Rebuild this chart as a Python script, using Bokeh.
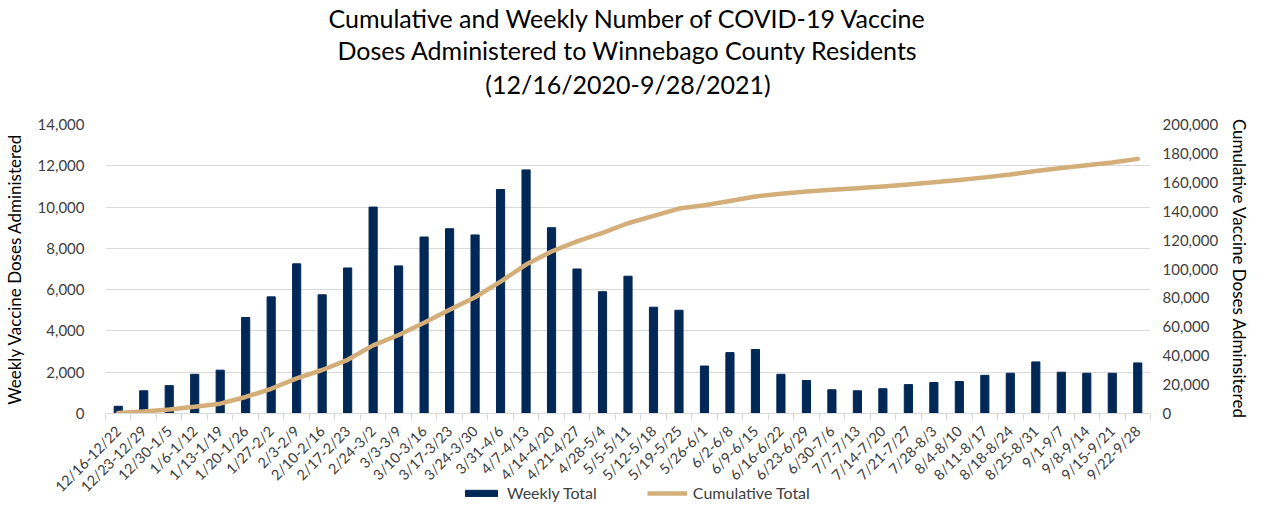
import math
from bokeh.plotting import figure
from bokeh.layouts import column
from bokeh.models import (Range1d, LinearAxis, FixedTicker, NumeralTickFormatter,
                          Legend, LegendItem, Title)
from bokeh.embed import file_html
from bokeh.resources import INLINE

weeks = ["12/16-12/22", "12/23-12/29", "12/30-1/5", "1/6-1/12", "1/13-1/19",
         "1/20-1/26", "1/27-2/2", "2/3-2/9", "2/10-2/16", "2/17-2/23",
         "2/24-3/2", "3/3-3/9", "3/10-3/16", "3/17-3/23", "3/24-3/30",
         "3/31-4/6", "4/7-4/13", "4/14-4/20", "4/21-4/27", "4/28-5/4",
         "5/5-5/11", "5/12-5/18", "5/19-5/25", "5/26-6/1", "6/2-6/8",
         "6/9-6/15", "6/16-6/22", "6/23-6/29", "6/30-7/6", "7/7-7/13",
         "7/14-7/20", "7/21-7/27", "7/28-8/3", "8/4-8/10", "8/11-8/17",
         "8/18-8/24", "8/25-8/31", "9/1-9/7", "9/8-9/14", "9/15-9/21",
         "9/22-9/28"]

weekly = [350, 1100, 1350, 1900, 2100,
          4650, 5650, 7250, 5750, 7050,
          10000, 7150, 8550, 8950, 8650,
          10850, 11800, 9000, 7000, 5900,
          6650, 5150, 5000, 2300, 2950,
          3100, 1900, 1600, 1150, 1100,
          1200, 1400, 1500, 1550, 1850,
          1950, 2500, 2000, 1950, 1950,
          2450]

cumulative = [350, 1450, 2800, 4700, 6800,
              11450, 17100, 24350, 30100, 37150,
              47150, 54300, 62850, 71800, 80450,
              91300, 103100, 112100, 119100, 125000,
              131650, 136800, 141800, 144100, 147050,
              150150, 152050, 153650, 154800, 155900,
              157100, 158500, 160000, 161550, 163400,
              165350, 167850, 169850, 171800, 173750,
              176200]

left_ticks = [0, 2000, 4000, 6000, 8000, 10000, 12000, 14000]
right_ticks = [0, 20000, 40000, 60000, 80000, 100000, 120000, 140000,
               160000, 180000, 200000]

title_lines = ["Cumulative and Weekly Number of COVID-19 Vaccine",
               "Doses Administered to Winnebago County Residents",
               "(12/16/2020-9/28/2021)"]

FONT = "Lato"
NAVY = "#002856"
TAN = "#D3AE78"
GRID = "#d9d9d9"
TXT = "#404040"

n = len(weeks)
xs = list(range(1, n + 1))

p = figure(width=1253, height=504, output_backend="svg", toolbar_location=None,
           x_range=Range1d(0.5, n + 0.5), y_range=Range1d(0, 14000),
           min_border_left=98, min_border_right=101, min_border_top=115,
           min_border_bottom=90, title=title_lines[0])
p.extra_y_ranges = {"cum": Range1d(0, 200000)}

p.title.align = "center"
p.title.text_font = FONT
p.title.text_font_size = "25px"
p.title.text_font_style = "normal"
p.title.text_color = "#000000"
p.title.standoff = 0

# titles are stacked outward from the frame: spacer, line 3, line 2 (line 1 is p.title)
p.add_layout(Title(text=" ", text_font_size="1px", standoff=21), "above")
p.add_layout(Title(text=title_lines[2], align="center", text_font=FONT,
                   text_font_size="25px", text_font_style="normal",
                   text_color="#000000", standoff=4), "above")
p.add_layout(Title(text=title_lines[1], align="center", text_font=FONT,
                   text_font_size="25px", text_font_style="normal",
                   text_color="#000000", standoff=0), "above")

p.outline_line_color = None
p.background_fill_color = "white"
p.border_fill_color = "white"

# grid
p.xgrid.grid_line_color = None
p.ygrid.ticker = FixedTicker(ticks=left_ticks)
p.ygrid.grid_line_color = GRID
p.ygrid.grid_line_width = 1

# x axis
xa = p.xaxis[0]
xa.ticker = FixedTicker(ticks=xs, minor_ticks=[i + 0.5 for i in range(0, n + 1)])
xa.major_label_overrides = {i: w for i, w in zip(xs, weeks)}
xa.major_label_orientation = math.pi / 4
xa.axis_label = None
xa.major_tick_line_color = None
xa.major_tick_out = 0
xa.major_tick_in = 0
xa.minor_tick_line_color = GRID
xa.minor_tick_out = 7
xa.minor_tick_in = 0
xa.axis_line_color = GRID
xa.major_label_text_color = TXT
xa.major_label_text_font = FONT
xa.major_label_text_font_size = "14.5px"
xa.major_label_standoff = 8

# left y axis
ya = p.yaxis[0]
ya.ticker = FixedTicker(ticks=left_ticks)
ya.formatter = NumeralTickFormatter(format="0,0")
ya.axis_line_color = None
ya.major_tick_line_color = None
ya.minor_tick_line_color = None
ya.major_tick_out = 0
ya.minor_tick_out = 0
ya.major_label_standoff = 21
ya.major_label_text_color = TXT
ya.major_label_text_font = FONT
ya.major_label_text_font_size = "15px"
ya.axis_label = "Weekly Vaccine Doses Administered"
ya.axis_label_text_font = FONT
ya.axis_label_text_font_style = "normal"
ya.axis_label_text_font_size = "17px"
ya.axis_label_text_color = "#000000"
ya.axis_label_standoff = 10

# right y axis
ra = LinearAxis(y_range_name="cum", ticker=FixedTicker(ticks=right_ticks),
                formatter=NumeralTickFormatter(format="0,0"))
ra.axis_line_color = None
ra.major_tick_line_color = None
ra.minor_tick_line_color = None
ra.major_tick_out = 0
ra.minor_tick_out = 0
ra.major_label_standoff = 12
ra.major_label_text_color = TXT
ra.major_label_text_font = FONT
ra.major_label_text_font_size = "15px"
ra.axis_label = "Cumulative Vaccine Doses Adminsitered"
ra.axis_label_text_font = FONT
ra.axis_label_text_font_style = "normal"
ra.axis_label_text_font_size = "17px"
ra.axis_label_text_color = "#000000"
ra.axis_label_standoff = 8
ra.axis_label_orientation = "parallel"
p.add_layout(ra, "right")

bars = p.vbar(x=xs, top=weekly, width=0.32, fill_color=NAVY, line_color=NAVY)
ln = p.line(xs, cumulative, y_range_name="cum", line_color=TAN, line_width=4.5,
            line_cap="round", line_join="round")

# legend strip below the chart (its renderers use the same series, kept out of view)
lf = figure(width=1253, height=36, output_backend="svg", toolbar_location=None,
            x_range=Range1d(100, 101), y_range=Range1d(-2, -1),
            x_axis_type=None, y_axis_type=None,
            min_border_left=0, min_border_right=0, min_border_top=0,
            min_border_bottom=0, margin=(-38, 0, 0, 0))
lf.outline_line_color = None
lf.background_fill_alpha = 0
lf.border_fill_alpha = 0
lf.xgrid.grid_line_color = None
lf.ygrid.grid_line_color = None
lbar = lf.vbar(x=xs, top=weekly, width=0.32, fill_color=NAVY, line_color=NAVY)
lline = lf.line(xs, cumulative, line_color=TAN, line_width=4.5)

legend = Legend(items=[LegendItem(label="Weekly Total", renderers=[lbar]),
                       LegendItem(label="Cumulative Total", renderers=[lline])],
                orientation="horizontal", location=(356, 0),
                border_line_color=None, background_fill_alpha=0,
                glyph_width=40, glyph_height=8, label_text_font=FONT,
                label_text_font_size="16px", label_text_color=TXT,
                spacing=50, padding=0, margin=0, label_standoff=6,
                label_height=16)
lf.add_layout(legend, "center")

layout = column(p, lf)
open("out.html", "w").write(file_html(layout, INLINE))
